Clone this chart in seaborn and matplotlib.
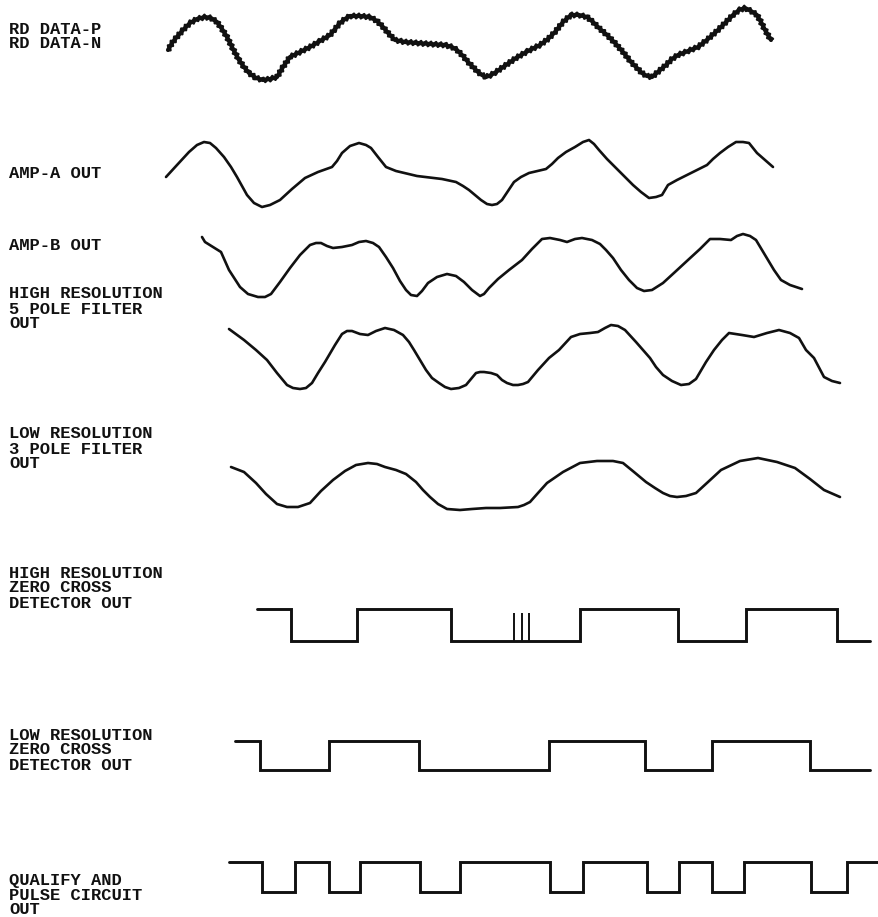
import numpy as np
import matplotlib
matplotlib.use("Agg")
import matplotlib.pyplot as plt
import seaborn as sns

# time axis is shared by all traces (same units as the page width)
# analog traces: signal level, positive = up, relative to the trace's own baseline

rd_t = [168, 172, 176, 183, 190, 197, 205, 211, 217, 222, 227, 233, 239, 244, 249,
        256, 263, 270, 277, 283, 290, 300, 310, 320, 330, 335, 340, 345, 350, 360,
        370, 377, 383, 389, 395, 405, 417, 430, 445, 452, 457, 463, 468, 473, 478,
        482, 486, 491, 496, 506, 516, 528, 540, 548, 555, 563, 571, 579, 587, 593,
        599, 607, 615, 623, 631, 637, 642, 647, 652, 659, 666, 672, 678, 688, 698,
        708, 718, 726, 733, 739, 745, 751, 757, 761, 765, 771]
rd_v = [-5, 2, 7, 15, 22, 26, 28, 27, 23, 16, 8, -4, -15, -22, -28,
        -33, -35, -34, -32, -22, -12, -7, -2, 4, 10, 16, 22, 26, 29, 29,
        28, 24, 18, 11, 5, 3, 2, 1, 0, -2, -5, -11, -17, -22, -27,
        -30, -32, -30, -27, -20, -13, -6, 0, 6, 13, 23, 30, 30, 28, 23,
        17, 10, 2, -7, -17, -23, -28, -31, -32, -26, -20, -14, -10, -6, -2,
        6, 15, 23, 30, 35, 37, 34, 30, 23, 15, 5]

amp_a_t = [166, 177, 189, 197, 204, 210, 216, 224, 231, 237, 242, 247, 254, 262, 270,
           280, 292, 305, 318, 332, 337, 342, 350, 359, 366, 371, 378, 386, 396, 417,
           442, 456, 463, 469, 475, 481, 487, 492, 497, 502, 508, 514, 521, 529, 546,
           552, 558, 566, 575, 583, 589, 594, 599, 607, 616, 625, 633, 641, 649, 656,
           662, 665, 668, 677, 687, 697, 707, 713, 720, 728, 736, 743, 749, 753, 757,
           765, 773]
amp_a_v = [-2, 10, 23, 30, 33, 32, 27, 18, 8, -2, -11, -20, -28, -32, -30,
           -25, -14, -3, 3, 8, 14, 22, 29, 32, 30, 27, 18, 8, 4, -1,
           -4, -7, -11, -15, -20, -25, -29, -30, -29, -25, -16, -7, -2, 2, 6,
           11, 17, 23, 28, 33, 35, 31, 25, 16, 7, -2, -10, -17, -23, -22,
           -20, -15, -10, -5, 0, 5, 10, 16, 22, 28, 33, 33, 32, 27, 22,
           15, 8]

amp_b_t = [202, 205, 213, 221, 229, 240, 248, 258, 265, 271, 280, 290, 300, 310, 316,
           321, 327, 333, 342, 352, 359, 366, 373, 379, 386, 393, 400, 406, 411, 417,
           422, 428, 437, 447, 456, 464, 472, 480, 484, 489, 498, 509, 522, 532, 542,
           550, 560, 567, 575, 582, 592, 600, 606, 613, 621, 629, 637, 644, 652, 663,
           675, 688, 700, 710, 720, 731, 737, 743, 750, 756, 762, 768, 774, 781, 790,
           802]
amp_b_v = [28, 23, 18, 13, -5, -22, -29, -32, -32, -29, -17, -3, 10, 20, 22,
           22, 19, 17, 18, 20, 23, 24, 22, 18, 8, -3, -16, -25, -30, -31,
           -26, -18, -12, -9, -11, -17, -25, -31, -29, -23, -14, -5, 5, 16, 26,
           27, 25, 23, 26, 27, 25, 21, 15, 7, -5, -15, -23, -26, -25, -18,
           -7, 5, 16, 26, 26, 25, 29, 31, 29, 25, 15, 5, -5, -15, -20,
           -24]

hr5_t = [229, 244, 256, 267, 277, 287, 293, 300, 306, 312, 318, 325, 335, 342, 347,
         352, 360, 368, 376, 385, 394, 403, 409, 414, 420, 426, 432, 439, 445, 451,
         459, 466, 471, 476, 480, 484, 491, 497, 502, 507, 513, 518, 523, 528, 538,
         549, 559, 571, 580, 590, 598, 605, 611, 618, 625, 636, 650, 656, 663, 672,
         681, 689, 696, 706, 714, 722, 729, 742, 754, 767, 779, 790, 799, 806, 814,
         824, 832, 840]
hr5_v = [31, 20, 10, 0, -13, -25, -28, -29, -28, -23, -13, -2, 15, 26, 29,
         29, 26, 25, 29, 32, 30, 25, 18, 10, 0, -10, -18, -23, -27, -29,
         -28, -25, -19, -13, -12, -12, -13, -15, -20, -23, -25, -25, -24, -22, -10,
         2, 10, 23, 26, 27, 28, 32, 35, 34, 30, 18, 2, -7, -15, -21,
         -25, -24, -19, -2, 10, 20, 27, 25, 23, 27, 30, 27, 22, 10, 2,
         -17, -21, -23]

lr3_t = [231, 244, 256, 266, 277, 287, 298, 310, 321, 333, 345, 356, 368, 377, 385,
         396, 406, 416, 423, 430, 438, 447, 460, 472, 486, 500, 518, 524, 530, 538,
         547, 563, 580, 597, 613, 623, 634, 646, 655, 663, 670, 677, 686, 696, 708,
         721, 740, 758, 777, 795, 810, 824, 840]
lr3_v = [18, 13, 2, -9, -19, -22, -22, -18, -6, 5, 14, 20, 22, 21, 18,
         15, 11, 3, -5, -12, -19, -24, -25, -24, -23, -23, -22, -20, -17, -8,
         2, 13, 22, 24, 24, 22, 13, 3, -3, -8, -11, -12, -11, -8, 3,
         15, 24, 27, 23, 17, 6, -5, -12]

# digital traces: edge times and logic level after each edge
hrzc_t = [257, 291, 357, 451, 580, 678, 746, 837, 870]
hrzc_l = [1, 0, 1, 0, 1, 0, 1, 0, 0]
hrzc_glitch_t = [514, 522, 529]

lrzc_t = [235, 260, 329, 419, 549, 645, 712, 810, 870]
lrzc_l = [1, 0, 1, 0, 1, 0, 1, 0, 0]

qp_t = [229, 262, 295, 329, 360, 420, 460, 550, 583, 647, 679, 712, 744, 811, 847, 880]
qp_l = [1, 0, 1, 0, 1, 0, 1, 0, 1, 0, 1, 0, 1, 0, 1, 1]

labels = [
    ["RD DATA-P", "RD DATA-N"],
    ["AMP-A OUT"],
    ["AMP-B OUT"],
    ["HIGH RESOLUTION", "5 POLE FILTER", "OUT"],
    ["LOW RESOLUTION", "3 POLE FILTER", "OUT"],
    ["HIGH RESOLUTION", "ZERO CROSS", "DETECTOR OUT"],
    ["LOW RESOLUTION", "ZERO CROSS", "DETECTOR OUT"],
    ["QUALIFY AND", "PULSE CIRCUIT", "OUT"],
]

# layout (page pixels, y grows downwards)
label_top = [29, 174, 245, 294, 434, 573, 735, 880]
line_pitch = 15
analog_base = {"rd": 45, "a": 175, "b": 265, "hr5": 360, "lr3": 485}
digital_low = {"hrzc": 641, "lrzc": 770, "qp": 892}
digital_amp = {"hrzc": 32, "lrzc": 29, "qp": 30}

W, H = 879, 917
sns.set_theme(style="white")
fig = plt.figure(figsize=(W / 100, H / 100), dpi=100)
ax = fig.add_axes([0, 0, 1, 1])
ink = "#111111"


def analog(t, v, base, lw=1.9, sketch=None):
    y = base - np.asarray(v, dtype=float)
    sns.lineplot(x=t, y=y, ax=ax, sort=False, estimator=None, color=ink, lw=lw,
                 solid_joinstyle="round", solid_capstyle="round")
    if sketch is not None:
        ax.lines[-1].set_sketch_params(*sketch)


def digital(t, lev, key):
    y = digital_low[key] - digital_amp[key] * np.asarray(lev, dtype=float)
    sns.lineplot(x=t, y=y, ax=ax, sort=False, estimator=None, color=ink, lw=2.1,
                 drawstyle="steps-post", solid_joinstyle="miter")


# RD DATA is noisy: a solid stroke plus a rippled stroke on top
analog(rd_t, rd_v, analog_base["rd"], lw=3.0)
analog(rd_t, rd_v, analog_base["rd"], lw=1.8, sketch=(2.4, 5, 1.0))
analog(amp_a_t, amp_a_v, analog_base["a"])
analog(amp_b_t, amp_b_v, analog_base["b"])
analog(hr5_t, hr5_v, analog_base["hr5"])
analog(lr3_t, lr3_v, analog_base["lr3"])

digital(hrzc_t, hrzc_l, "hrzc")
ax.vlines(hrzc_glitch_t, digital_low["hrzc"], digital_low["hrzc"] - digital_amp["hrzc"] + 4,
          color=ink, lw=1.4)
digital(lrzc_t, lrzc_l, "lrzc")
digital(qp_t, qp_l, "qp")

for lines, top in zip(labels, label_top):
    for i, txt in enumerate(lines):
        ax.text(9, top + i * line_pitch, txt, ha="left", va="center",
                family="Liberation Mono", fontweight="bold", fontsize=12.3, color=ink)

ax.set_xlim(0, W)
ax.set_ylim(H, 0)
ax.axis("off")
fig.savefig("out.png", dpi=100, facecolor="white")
